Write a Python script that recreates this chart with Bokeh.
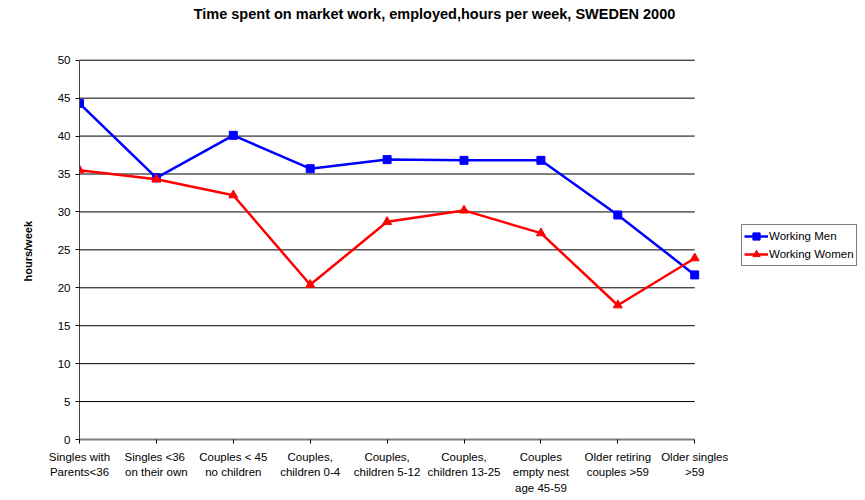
from bokeh.plotting import figure
from bokeh.models import Legend, LegendItem, FixedTicker, Label, Title
from bokeh.embed import file_html
from bokeh.resources import INLINE

categories = ["Singles with\nParents<36", "Singles  <36\non their own", "Couples < 45\nno children",
              "Couples,\nchildren 0-4", "Couples,\nchildren 5-12", "Couples,\nchildren 13-25",
              "Couples\nempty nest\nage 45-59", "Older retiring\ncouples >59", "Older singles\n>59"]
men = [44.3, 34.5, 40.1, 35.7, 36.9, 36.8, 36.8, 29.6, 21.7]
women = [35.5, 34.3, 32.2, 20.4, 28.7, 30.2, 27.2, 17.7, 23.9]
yticks = list(range(0, 55, 5))
title_text = "Time spent on market work, employed,hours per week, SWEDEN 2000"
y_label = "hours/week"

FONT = "Liberation Sans"
xs = list(range(len(categories)))
n_int = len(categories) - 1
y_max = yticks[-1]

W, H = 857, 496
LEFT, BOTTOM = 78, 55
PLOT_W = 616   # px width of the category span
PLOT_H = 381   # px height of the value span (0..50)
frame_w = W - LEFT
frame_h = H - BOTTOM
x_end = n_int * frame_w / PLOT_W
y_end = y_max * frame_h / PLOT_H

p = figure(width=W, height=H, output_backend="svg", toolbar_location=None,
           x_range=(0, x_end), y_range=(0, y_end))
p.min_border_left = LEFT
p.min_border_right = 0
p.min_border_top = 0
p.min_border_bottom = BOTTOM
p.outline_line_color = None
p.background_fill_color = "white"

title = Label(text=title_text, x=433 - LEFT, y=frame_h - 15, x_units="screen", y_units="screen",
              text_align="center", text_baseline="middle", text_font=FONT,
              text_font_size="14.5px", text_font_style="bold", text_color="black")
p.add_layout(title)

ylab = Title(text=y_label, align="left", offset=158, vertical_align="middle", standoff=40,
             text_font=FONT, text_font_size="11px", text_font_style="bold", text_color="black")
p.add_layout(ylab, "left")

# axes
p.xaxis.ticker = FixedTicker(ticks=xs)
p.xaxis.bounds = (0, n_int)
p.xaxis.major_label_overrides = {i: c for i, c in enumerate(categories)}
p.xaxis.major_label_text_font = FONT
p.xaxis.major_label_text_font_size = "11.5px"
p.xaxis.major_label_text_line_height = 1.3
p.xaxis.major_label_text_color = "black"
p.xaxis.axis_line_color = "#808080"
p.xaxis.axis_line_width = 2
p.xaxis.major_tick_line_color = "black"
p.xaxis.major_tick_in = 0
p.xaxis.major_tick_out = 4
p.xaxis.minor_tick_line_color = None
p.xaxis.major_label_standoff = 7

p.yaxis.ticker = FixedTicker(ticks=yticks)
p.yaxis.bounds = (0, y_max)
p.yaxis.major_label_text_font = FONT
p.yaxis.major_label_text_font_size = "11.5px"
p.yaxis.major_label_text_color = "black"
p.yaxis.axis_line_color = "#404040"
p.yaxis.major_tick_line_color = "black"
p.yaxis.major_tick_in = 0
p.yaxis.major_tick_out = 4
p.yaxis.minor_tick_line_color = None

p.xgrid.grid_line_color = None
p.ygrid.grid_line_color = None
# horizontal gridlines spanning only the category span
p.segment(x0=[0] * len(yticks[1:]), x1=[n_int] * len(yticks[1:]), y0=yticks[1:], y1=yticks[1:],
          line_color="black", line_width=1)

l1 = p.line(xs, men, line_color="#0000FF", line_width=2.5)
s1 = p.scatter(xs, men, marker="square", size=8, fill_color="#0000FF", line_color="#0000FF")
l2 = p.line(xs, women, line_color="#FF0000", line_width=2.5)
s2 = p.scatter(xs, women, marker="triangle", size=9, fill_color="#FF0000", line_color="#FF0000")

legend = Legend(items=[LegendItem(label="Working Men", renderers=[l1, s1]),
                       LegendItem(label="Working Women", renderers=[l2, s2])],
                location=(662, 173))
legend.label_text_font = FONT
legend.label_text_font_size = "11.5px"
legend.label_text_color = "black"
legend.border_line_color = "black"
legend.border_line_width = 1
legend.padding = 2
legend.spacing = 0
legend.margin = 0
legend.glyph_width = 24
legend.glyph_height = 18
legend.label_height = 18
legend.label_standoff = 1
legend.background_fill_alpha = 1
p.add_layout(legend, "center")

open("out.html", "w").write(file_html(p, INLINE))
